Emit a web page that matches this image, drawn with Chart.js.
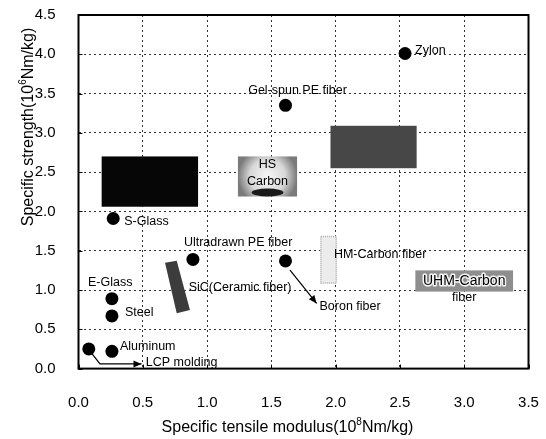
<!DOCTYPE html>
<html><head><meta charset="utf-8">
<script src="https://cdn.jsdelivr.net/npm/chart.js@4/dist/chart.umd.min.js"></script>
<style>html,body{margin:0;padding:0;background:#fff}#wrap{width:546px;height:439px;position:relative}</style>
</head><body><div id="wrap"><canvas id="c" width="546" height="439" style="width:546px;height:439px"></canvas></div>
<script>
// ---- data ----
const materials = ['Zylon','Gel-spun PE fiber','S-Glass','Ultradrawn PE fiber','E-Glass','Steel','Aluminum','LCP molding','Boron fiber'];
const modulus   = [2.54, 1.61, 0.27, 0.89, 0.26, 0.26, 0.26, 0.08, 1.61];
const strength  = [4.01, 3.35, 1.91, 1.39, 0.89, 0.67, 0.22, 0.25, 1.37];

// material regions (ranges of modulus / strength)
const regionNames  = ['', 'HS\nCarbon', '', 'HM-Carbon fiber', 'UHM-Carbon\nfiber'];
const regionModMin = [0.18, 1.24, 1.96, 1.88, 2.62];
const regionModMax = [0.93, 1.70, 2.63, 2.01, 3.38];
const regionStrMin = [2.06, 2.19, 2.55, 1.08, 0.98];
const regionStrMax = [2.70, 2.70, 3.09, 1.69, 1.25];

// SiC (ceramic fiber) region outline
const sicModulus  = [0.673, 0.764, 0.867, 0.764];
const sicStrength = [1.347, 1.373, 0.746, 0.704];

// leader arrows (modulus, strength waypoints)
const lcpArrowMod   = [0.10, 0.167, 0.49];
const lcpArrowStr   = [0.20, 0.06, 0.06];
const boronArrowMod = [1.645, 1.852];
const boronArrowStr = [1.254, 0.83];

const xTickLabels = ['0.0','0.5','1.0','1.5','2.0','2.5','3.0','3.5'];
const yTickLabels = ['0.0','0.5','1.0','1.5','2.0','2.5','3.0','3.5','4.0','4.5'];

// ---- styles ----
const FONT = '"Liberation Sans", Arial, sans-serif';
const labelStyle = { // pixel offsets from each point
  'Zylon': {dx:10, dy:-3, align:'left'},
  'Gel-spun PE fiber': {dx:12, dy:-15, align:'center'},
  'S-Glass': {dx:11, dy:3, align:'left'},
  'Ultradrawn PE fiber': {dx:-9, dy:-17, align:'left'},
  'E-Glass': {dx:-24, dy:-16, align:'left'},
  'Steel': {dx:13, dy:-3, align:'left'},
  'Aluminum': {dx:8, dy:-5, align:'left'},
  'LCP molding': {dx:57, dy:14, align:'left'},
  'Boron fiber': {dx:34, dy:46, align:'left'}
};
const regionStyle = [
  {fill:'#060606'},
  {fill:'hs'},
  {fill:'#474747'},
  {fill:'#ececec', stroke:'#b5b5b5'},
  {fill:'#8e8e8e'}
];

function drawSupText(ctx, parts, x, y, size) {
  ctx.font = size + 'px ' + FONT;
  const w1 = ctx.measureText(parts[0]).width;
  const w3 = ctx.measureText(parts[2]).width;
  ctx.font = Math.round(size*0.65) + 'px ' + FONT;
  const w2 = ctx.measureText(parts[1]).width;
  const total = w1 + w2 + w3;
  let cx = x - total/2;
  ctx.textAlign = 'left'; ctx.textBaseline = 'middle';
  ctx.font = size + 'px ' + FONT;
  ctx.fillText(parts[0], cx, y); cx += w1;
  ctx.font = Math.round(size*0.65) + 'px ' + FONT;
  ctx.fillText(parts[1], cx, y - size*0.35); cx += w2;
  ctx.font = size + 'px ' + FONT;
  ctx.fillText(parts[2], cx, y);
}

const annot = {
  id: 'annot',
  beforeDatasetsDraw(chart) {
    const {ctx, scales:{x, y}} = chart;
    ctx.save();
    for (let i = 0; i < regionNames.length; i++) {
      const l = x.getPixelForValue(regionModMin[i]), r = x.getPixelForValue(regionModMax[i]);
      const t = y.getPixelForValue(regionStrMax[i]), b = y.getPixelForValue(regionStrMin[i]);
      const st = regionStyle[i];
      if (st.fill === 'hs') {
        const g = ctx.createRadialGradient((l+r)/2, (t+b)/2, 3, (l+r)/2, (t+b)/2, (r-l)/2);
        g.addColorStop(0, '#f2f2f2'); g.addColorStop(0.55, '#d8d8d8'); g.addColorStop(1, '#7a7a7a');
        ctx.fillStyle = g;
        ctx.fillRect(l, t, r-l, b-t);
        ctx.fillStyle = '#1a1a1a';
        ctx.beginPath(); ctx.ellipse((l+r)/2, b-4, (r-l)*0.27, 4, 0, 0, Math.PI*2); ctx.fill();
      } else {
        ctx.fillStyle = st.fill;
        ctx.fillRect(l, t, r-l, b-t);
      }
      if (st.stroke) {
        ctx.strokeStyle = st.stroke; ctx.lineWidth = 1.5; ctx.setLineDash([1,1]);
        ctx.strokeRect(l+0.75, t+0.75, r-l-1.5, b-t-1.5); ctx.setLineDash([]);
      }
    }
    ctx.beginPath();
    sicModulus.forEach((m, i) => {
      const px = x.getPixelForValue(m), py = y.getPixelForValue(sicStrength[i]);
      i ? ctx.lineTo(px, py) : ctx.moveTo(px, py);
    });
    ctx.closePath();
    ctx.fillStyle = '#3c3c3c'; ctx.fill();
    ctx.strokeStyle = '#000'; ctx.fillStyle = '#000'; ctx.lineWidth = 1.2;
    const arrow = (ms, ss) => {
      ctx.beginPath();
      ms.forEach((m, i) => {
        const px = x.getPixelForValue(m), py = y.getPixelForValue(ss[i]);
        i ? ctx.lineTo(px, py) : ctx.moveTo(px, py);
      });
      ctx.stroke();
      const n = ms.length;
      const x1 = x.getPixelForValue(ms[n-2]), y1 = y.getPixelForValue(ss[n-2]);
      const x2 = x.getPixelForValue(ms[n-1]), y2 = y.getPixelForValue(ss[n-1]);
      const a = Math.atan2(y2-y1, x2-x1);
      ctx.beginPath();
      ctx.moveTo(x2, y2);
      ctx.lineTo(x2 - 8*Math.cos(a) + 3.5*Math.sin(a), y2 - 8*Math.sin(a) - 3.5*Math.cos(a));
      ctx.lineTo(x2 - 8*Math.cos(a) - 3.5*Math.sin(a), y2 - 8*Math.sin(a) + 3.5*Math.cos(a));
      ctx.closePath(); ctx.fill();
    };
    arrow(lcpArrowMod, lcpArrowStr);
    arrow(boronArrowMod, boronArrowStr);
    ctx.restore();
  },
  afterDatasetsDraw(chart) {
    const {ctx, scales:{x, y}} = chart;
    ctx.save();
    ctx.fillStyle = '#000';
    ctx.font = '12.5px ' + FONT;
    ctx.textBaseline = 'middle';
    materials.forEach((name, i) => {
      const s = labelStyle[name];
      ctx.textAlign = s.align;
      ctx.fillText(name, x.getPixelForValue(modulus[i]) + s.dx, y.getPixelForValue(strength[i]) + s.dy);
    });
    const cxr = i => (x.getPixelForValue(regionModMin[i]) + x.getPixelForValue(regionModMax[i]))/2;
    const cyr = i => (y.getPixelForValue(regionStrMin[i]) + y.getPixelForValue(regionStrMax[i]))/2;
    ctx.textAlign = 'center';
    let lines = regionNames[1].split('\n');
    ctx.fillText(lines[0], cxr(1), cyr(1) - 12);
    ctx.fillText(lines[1], cxr(1), cyr(1) + 5);
    ctx.textAlign = 'left';
    ctx.fillText(regionNames[3], x.getPixelForValue(regionModMax[3]) - 3, y.getPixelForValue(regionStrMax[3]) + 19);
    lines = regionNames[4].split('\n');
    ctx.textAlign = 'center';
    ctx.font = '14px ' + FONT;
    ctx.lineWidth = 3; ctx.lineJoin = 'round'; ctx.strokeStyle = '#f4f4f4';
    ctx.strokeText(lines[0], cxr(4), cyr(4));
    ctx.fillText(lines[0], cxr(4), cyr(4));
    ctx.font = '12.5px ' + FONT;
    ctx.fillText(lines[1], cxr(4), cyr(4) + 17);
    ctx.textAlign = 'left';
    ctx.fillText('SiC(Ceramic fiber)', x.getPixelForValue(sicModulus[1]) + 12, y.getPixelForValue((sicStrength[0]+sicStrength[3])/2));
    ctx.restore();
  },
  afterDraw(chart) {
    const {ctx, chartArea:a, scales:{x, y}} = chart;
    ctx.save();
    ctx.strokeStyle = '#000';
    ctx.lineWidth = 2;
    ctx.strokeRect(a.left, a.top, a.right - a.left, a.bottom - a.top);
    ctx.lineWidth = 1;
    x.ticks.forEach(t => {
      const px = Math.round(x.getPixelForValue(t.value)) + 0.5;
      ctx.beginPath(); ctx.moveTo(px, a.bottom); ctx.lineTo(px, a.bottom - 4); ctx.stroke();
    });
    y.ticks.forEach(t => {
      const py = Math.round(y.getPixelForValue(t.value)) + 0.5;
      ctx.beginPath(); ctx.moveTo(a.left, py); ctx.lineTo(a.left + 4, py); ctx.stroke();
    });
    ctx.fillStyle = '#000';
    drawSupText(ctx, ['Specific tensile modulus(10', '8', 'Nm/kg)'], 287.5, 428, 16);
    ctx.translate(28.5, 127);
    ctx.rotate(-Math.PI/2);
    drawSupText(ctx, ['Specific strength(10', '6', 'Nm/kg)'], 0, 0, 16);
    ctx.restore();
  }
};

new Chart(document.getElementById('c'), {
  type: 'scatter',
  data: {
    datasets: [{
      label: 'Materials',
      data: materials.map((m, i) => ({x: modulus[i], y: strength[i]})),
      backgroundColor: '#000',
      borderWidth: 0,
      pointRadius: 6.5,
      pointHoverRadius: 6.5
    }]
  },
  plugins: [annot],
  options: {
    responsive: false,
    animation: false,
    devicePixelRatio: 1,
    layout: {padding: {left: 0, right: 17.5, top: 15, bottom: 0}},
    plugins: {legend: {display: false}, tooltip: {enabled: false}},
    scales: {
      x: {
        type: 'linear', min: 0, max: 3.5,
        afterFit(s) { s.height = 70.4; },
        ticks: {stepSize: 0.5, padding: 0, color: '#000', font: {family: FONT, size: 15},
          callback: (v) => xTickLabels[Math.round(v/0.5)] },
        grid: {color: '#333', lineWidth: 1, drawTicks: true, tickLength: 25, tickColor: 'rgba(0,0,0,0)'},
        border: {display: false, dash: [2, 3]}
      },
      y: {
        type: 'linear', min: 0, max: 4.5,
        afterFit(s) { s.width = 78.5; },
        ticks: {stepSize: 0.5, padding: 0, color: '#000', font: {family: FONT, size: 15},
          callback: (v) => yTickLabels[Math.round(v/0.5)] },
        grid: {color: '#333', lineWidth: 1, drawTicks: true, tickLength: 23, tickColor: 'rgba(0,0,0,0)'},
        border: {display: false, dash: [2, 3]}
      }
    }
  }
});
</script>
</body></html>
